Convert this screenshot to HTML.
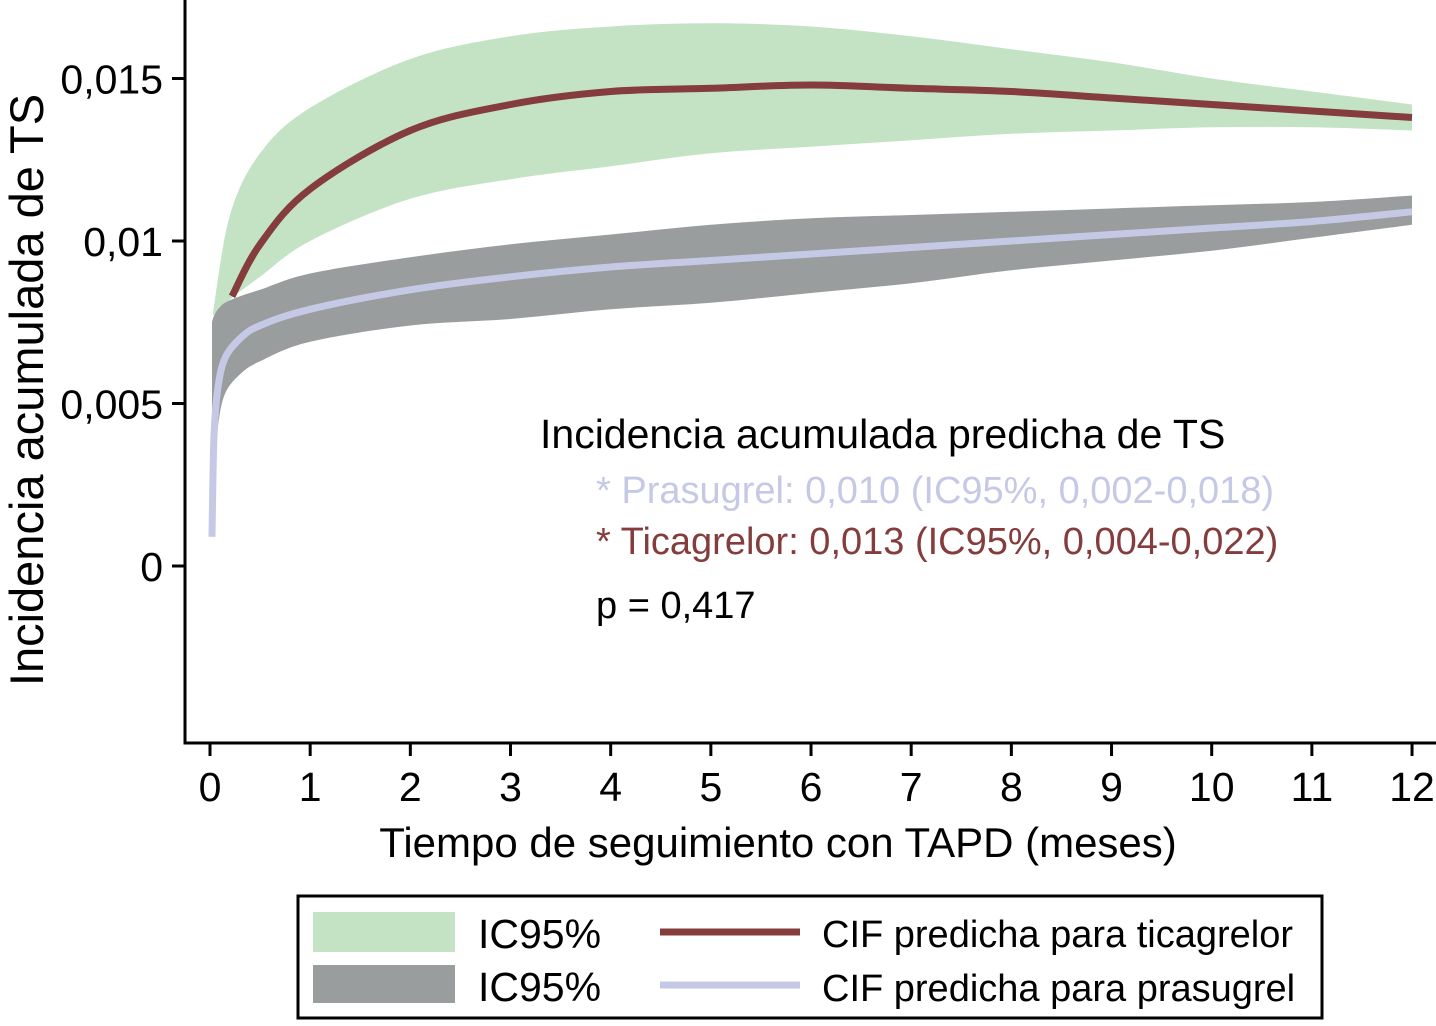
<!DOCTYPE html>
<html><head><meta charset="utf-8"><style>
body{margin:0;background:#fff;width:1436px;height:1021px;overflow:hidden}
svg{font-family:"Liberation Sans",Arial,sans-serif}
</style></head><body>
<svg id="chart" width="1436" height="1021">
<g id="plot"></g>
<g id="axes"></g>
<text x="0" y="0" transform="translate(43,390) rotate(-90)" text-anchor="middle" font-size="47">Incidencia acumulada de TS</text>
<text x="778" y="857" text-anchor="middle" font-size="42">Tiempo de seguimiento con TAPD (meses)</text>
<text x="540" y="448" font-size="41">Incidencia acumulada predicha de TS</text>
<text x="596" y="503" font-size="38" fill="#c5c9e6">* Prasugrel: 0,010 (IC95%, 0,002-0,018)</text>
<text x="596" y="554" font-size="38" fill="#843c3c">* Ticagrelor: 0,013 (IC95%, 0,004-0,022)</text>
<text x="596" y="618" font-size="38">p = 0,417</text>
<g>
<rect x="298" y="896" width="1024" height="122" fill="none" stroke="#000" stroke-width="3"/>
<rect x="313" y="912" width="142" height="40" fill="#c3e3c4"/>
<text x="478" y="948" font-size="41">IC95%</text>
<rect x="313" y="965" width="142" height="38" fill="#9a9d9e"/>
<text x="478" y="1001" font-size="41">IC95%</text>
<line x1="660" y1="932" x2="800" y2="932" stroke="#843c3c" stroke-width="7"/>
<text x="822" y="947" font-size="38">CIF predicha para ticagrelor</text>
<line x1="660" y1="985" x2="800" y2="985" stroke="#c5c9e6" stroke-width="7"/>
<text x="822" y="1001" font-size="38">CIF predicha para prasugrel</text>
</g>
</svg>
<script>
const xTicks=[0,1,2,3,4,5,6,7,8,9,10,11,12];
const yTicks=[0,0.005,0.01,0.015];
const yTickLabels=["0","0,005","0,01","0,015"];
const ticT=[0.22,0.5,1,2,3,4,5,6,7,8,9,10,11,12];
const ticV=[0.0083,0.0099,0.0116,0.0134,0.0142,0.0146,0.0147,0.0148,0.0147,0.0146,0.0144,0.0142,0.0140,0.0138];
const ticCiT=[0.03,0.2,0.5,1,2,3,4,5,6,7,8,9,10,11,12];
const ticHi=[0.0078,0.0108,0.0127,0.0141,0.0156,0.0163,0.0166,0.0167,0.0166,0.0163,0.0159,0.0155,0.0150,0.0146,0.0142];
const ticLo=[0.0077,0.0082,0.0089,0.0100,0.0113,0.0119,0.0123,0.0127,0.0129,0.0131,0.0133,0.0134,0.0135,0.0135,0.0134];
const praT=[0.02,0.04,0.08,0.15,0.3,0.5,1,2,3,4,5,6,7,8,9,10,11,12];
const praV=[0.0009,0.0040,0.0055,0.0064,0.0070,0.0074,0.0079,0.0085,0.0089,0.0092,0.0094,0.0096,0.0098,0.0100,0.0102,0.0104,0.0106,0.0109];
const praHi=[0.0075,0.0077,0.0079,0.0081,0.0083,0.0085,0.0090,0.0095,0.0099,0.0102,0.0105,0.0107,0.0108,0.0109,0.0110,0.0111,0.0112,0.0114];
const praLo=[0.0008,0.0026,0.0043,0.0053,0.0059,0.0063,0.0069,0.0074,0.0076,0.0079,0.0081,0.0084,0.0087,0.0091,0.0094,0.0097,0.0101,0.0105];
const X=t=>210+t*100.17;
const Y=v=>566-v*32500;
const NS='http://www.w3.org/2000/svg';
const plot=document.getElementById('plot'),axes=document.getElementById('axes');
function mk(tag,attrs,parent){const e=document.createElementNS(NS,tag);for(const k in attrs)e.setAttribute(k,attrs[k]);parent.appendChild(e);return e;}
function P(ts,vs){return ts.map((t,i)=>[X(t),Y(vs[i])]);}
function spline(p,move){
 let d=(move?'M':'L')+p[0][0].toFixed(1)+','+p[0][1].toFixed(1);
 for(let i=0;i<p.length-1;i++){
  const p0=p[Math.max(0,i-1)],p1=p[i],p2=p[i+1],p3=p[Math.min(p.length-1,i+2)];
  const c1=[p1[0]+(p2[0]-p0[0])/6,p1[1]+(p2[1]-p0[1])/6];
  const c2=[p2[0]-(p3[0]-p1[0])/6,p2[1]-(p3[1]-p1[1])/6];
  d+=' C'+c1.map(n=>n.toFixed(1)).join(',')+' '+c2.map(n=>n.toFixed(1)).join(',')+' '+p2[0].toFixed(1)+','+p2[1].toFixed(1);
 }
 return d;
}
function band(ts,hi,lo,fill,name){
 const d=spline(P(ts,hi),true)+' '+spline(P(ts,lo).reverse(),false)+' Z';
 const e=mk('path',{d:d,fill:fill},plot);
 
 
}
function line(ts,vs,col,name){
 const e=mk('path',{d:spline(P(ts,vs),true),fill:'none',stroke:col,'stroke-width':7,'stroke-linejoin':'round'},plot);
 
 
}
band(ticCiT,ticHi,ticLo,'#c3e3c4','ticagrelor-ci-band');
band(praT,praHi,praLo,'#9a9d9e','prasugrel-ci-band');
line(ticT,ticV,'#843c3c','ticagrelor-cif-line');
line(praT,praV,'#c5c9e6','prasugrel-cif-line');
let a=mk('path',{d:'M185,0 V743 H1436',fill:'none',stroke:'#000','stroke-width':3},axes);


xTicks.forEach(t=>{
 const l=mk('line',{x1:X(t),x2:X(t),y1:743,y2:756,stroke:'#000','stroke-width':3},axes);
 
 
 const tx=mk('text',{x:X(t),y:801,'text-anchor':'middle','font-size':41},axes);
 tx.textContent=t;
 
 
});
yTicks.forEach((v,i)=>{
 const l=mk('line',{x1:172,x2:185,y1:Y(v),y2:Y(v),stroke:'#000','stroke-width':3},axes);
 
 
 const tx=mk('text',{x:163,y:Y(v)+15,'text-anchor':'end','font-size':41},axes);
 tx.textContent=yTickLabels[i];
 
 
});
</script>
</body></html>
